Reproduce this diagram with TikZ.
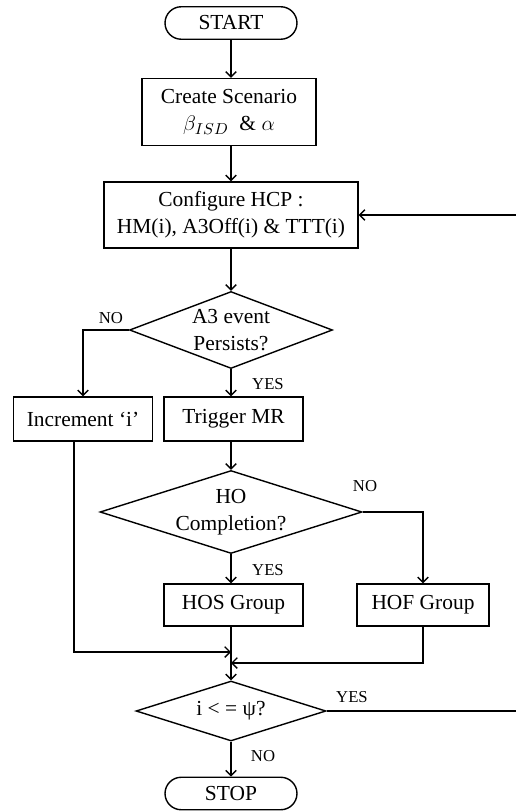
\documentclass[tikz,border=0pt]{standalone}
\usepackage{fontspec}
\setmainfont{Liberation Serif}
\usetikzlibrary{shapes.geometric,shapes.misc,arrows.meta}
\tikzset{
  term/.style={draw, rounded rectangle, minimum width=2.64cm, minimum height=0.65cm, inner sep=0pt},
  proc/.style={draw, rectangle, align=center, inner sep=0pt},
  decide/.style={draw, diamond, align=center, inner sep=0pt},
  lbl/.style={font=\fontsize{9.5}{11}\selectfont, inner sep=0pt},
  flow/.style={-{Straight Barb[length=3pt,width=6pt]}},
}

\begin{document}
\begin{tikzpicture}[x=0.02cm, y=-0.02cm, line width=0.8pt, font=\fontsize{12.2}{15.5}\selectfont]
		%%%%% FRAME %%%%%
		\useasboundingbox (0,0) rectangle (516,811);
		\clip (0,0) rectangle (516,811);
		
		%%%%% BLOCKS %%%%%
		\node[term] (start) at (231,23) {START};
		\node[proc, minimum width=3.48cm, minimum height=1.34cm] (scen) at (229,112) {Create Scenario\\$\beta_{ISD}$\ \ \& {\large$\alpha$}};
		\node[proc, minimum width=5.08cm, minimum height=1.32cm] (hcp) at (231,215) {Configure HCP :\\HM(i), A3Off(i) \& TTT(i)};
		\node[decide, aspect=2.64, minimum width=4.06cm, minimum height=1.54cm] (dA3) at (231,330) {A3 event\\Persists?};
		\node[proc, minimum width=2.78cm, minimum height=0.88cm] (inc) at (83,419) {Increment ‘i’};
		\node[proc, minimum width=2.78cm, minimum height=0.88cm] (trig) at (233.5,419) {Trigger MR};
		\node[decide, aspect=3.16, minimum width=5.24cm, minimum height=1.66cm] (dHO) at (231,512) {HO\\Completion?};
		\node[proc, minimum width=2.78cm, minimum height=0.84cm] (hos) at (233.5,605) {HOS Group};
		\node[proc, minimum width=2.64cm, minimum height=0.84cm] (hof) at (423,605) {HOF Group};
		\node[decide, aspect=3.17, minimum width=3.8cm, minimum height=1.2cm] (dPsi) at (231,711) {i < = ψ?};
		\node[term] (stop) at (231,793.5) {STOP};
		
		%%%%% LABELS %%%%%
		\node[lbl] (noA3) at (111,318) {NO};
		\node[lbl] (yesA3) at (268,384) {YES};
		\node[lbl] (noHO) at (365,486) {NO};
		\node[lbl] (yesHO) at (268,570) {YES};
		\node[lbl] (yesPsi) at (352,697) {YES};
		\node[lbl] (noPsi) at (263,756) {NO};
		
		%%%%% FLOW %%%%%
		\draw[flow] (start.south) -- (start.south |- scen.north);
		\draw[flow] (scen.south -| hcp) -- (hcp.north);
		\draw[flow] (hcp.south) -- (dA3.north);
		\draw[flow] (dA3.west) -| (inc.north);
		\draw[flow] (dA3.south) -- (dA3.south |- trig.north);
		\draw[flow] (trig.south -| dHO) -- (dHO.north);
		\draw[flow] (dHO.east) -| (hof.north);
		\draw[flow] (dHO.south) -- (dHO.south |- hos.north);
		\draw[flow] (hos.south -| dPsi) -- (dPsi.north);
		
		\coordinate (jinc) at (231,652);
		\coordinate (jhof) at (231,663);
		\draw[flow] ([xshift=-0.18cm]inc.south) |- (jinc);
		\draw[flow] (hof.south) |- (jhof);
		
		\coordinate (back) at (530,711);
		\draw[flow] (dPsi.east) -- (back) |- (hcp.east);
		\draw[flow] (dPsi.south) -- (stop.north);
		%%%%% END %%%%%
	\end{tikzpicture}
\end{document}
